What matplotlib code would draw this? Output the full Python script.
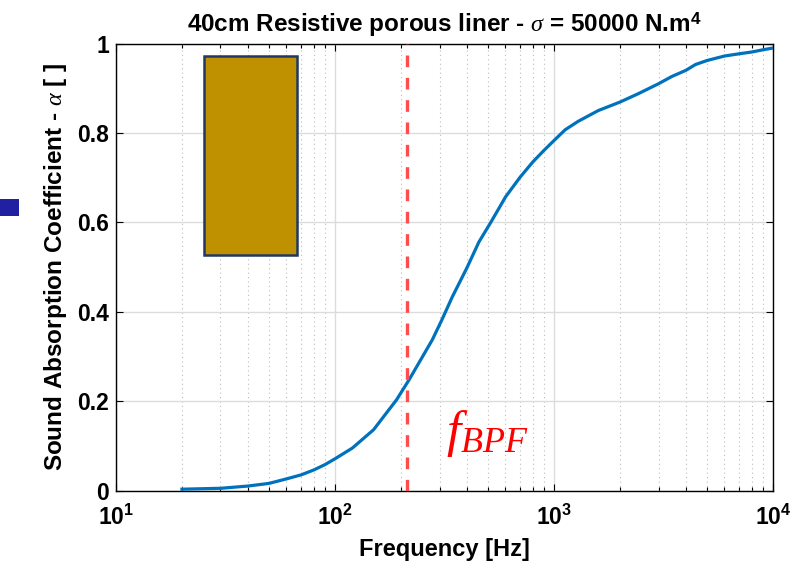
import numpy as np
import matplotlib
matplotlib.use('Agg')
import matplotlib.pyplot as plt
from matplotlib.patches import Rectangle
from matplotlib.ticker import FixedLocator, LogLocator, NullFormatter

plt.rcParams['font.family'] = ['Liberation Sans', 'DejaVu Sans']
plt.rcParams['mathtext.fontset'] = 'custom'
plt.rcParams['mathtext.rm'] = 'Liberation Sans:bold'
plt.rcParams['mathtext.bf'] = 'Liberation Sans:bold'
plt.rcParams['mathtext.it'] = 'Liberation Serif:italic'

# absorption curve
freq = [20, 30, 40, 50, 60, 70, 80, 90, 100, 120, 150, 191, 218, 278, 307,
        343, 400, 454, 513, 601, 700, 800, 900, 1000, 1124, 1290, 1592, 2000,
        2431, 3000, 3442, 4000, 4425, 5000, 6000, 7000, 8000, 9000, 10000]
alpha = [0.003, 0.005, 0.010, 0.016, 0.026, 0.035, 0.046, 0.058, 0.071,
         0.095, 0.136, 0.203, 0.248, 0.337, 0.381, 0.433, 0.498, 0.556,
         0.599, 0.657, 0.701, 0.735, 0.761, 0.783, 0.807, 0.826, 0.850,
         0.869, 0.888, 0.910, 0.926, 0.940, 0.953, 0.962, 0.972, 0.977,
         0.981, 0.986, 0.990]
f_bpf = 214
yticks = [0, 0.2, 0.4, 0.6, 0.8, 1]
ytick_labels = ['0', '0.2', '0.4', '0.6', '0.8', '1']
xticks = [10, 100, 1000, 10000]
xtick_labels = [r'$\mathbf{10^{1}}$', r'$\mathbf{10^{2}}$',
                r'$\mathbf{10^{3}}$', r'$\mathbf{10^{4}}$']

fig = plt.figure(figsize=(7.94, 5.68), dpi=100)
ax = fig.add_axes([0.1461, 0.1364, 0.8275, 0.787])

ax.plot(freq, alpha, color='#0072BD', lw=2.3, zorder=3)
ax.axvline(f_bpf, color='#FF4D4D', lw=2.4, ls=(0, (3.5, 3.2)), zorder=4)

# material block sketch
ax.add_patch(Rectangle((25.2, 0.528), 67.4 - 25.2, 0.9725 - 0.528,
                       facecolor='#BF9000', edgecolor='#1F3864', lw=1.8, zorder=5))

ax.text(322, 0.128, r'$f_{BPF}$', color='red', fontsize=37, ha='left', va='center')

ax.set_xscale('log')
ax.set_xlim(10, 10000)
ax.set_ylim(0, 1)
ax.xaxis.set_major_locator(FixedLocator(xticks))
ax.set_xticklabels(xtick_labels)
ax.xaxis.set_minor_locator(LogLocator(base=10, subs=np.arange(2, 10)))
ax.xaxis.set_minor_formatter(NullFormatter())
ax.set_yticks(yticks)
ax.set_yticklabels(ytick_labels)

ax.grid(True, which='major', color='#DCDCDC', lw=1.0, ls='-')
ax.grid(True, which='minor', axis='x', color='#BBBBBB', lw=0.8, ls=(0, (1, 3)))
ax.set_axisbelow(True)

ax.tick_params(which='both', direction='in', top=True, right=True, width=0.8)
ax.tick_params(which='major', length=5, labelsize=16.5)
ax.tick_params(which='minor', length=3)
ax.tick_params(axis='x', which='major', pad=10)
ax.tick_params(axis='y', which='major', pad=5)
for lab in ax.get_yticklabels():
    lab.set_fontweight('bold')
for sp in ax.spines.values():
    sp.set_linewidth(1.0)

ax.set_title(r'40cm Resistive porous liner - $\sigma$ = 50000 N.m$^{\mathbf{4}}$',
             fontsize=17.5, fontweight='bold', pad=8)
ax.set_xlabel('Frequency [Hz]', fontsize=17, fontweight='bold', labelpad=6)
ax.set_ylabel(r'Sound Absorption Coefficient - $\alpha$ [ ]', fontsize=17.5,
              fontweight='bold', labelpad=6)

# small blue marker at the left edge of the slide
fig.patches.append(Rectangle((0, 0.6197), 0.0239, 0.0299, transform=fig.transFigure,
                             facecolor='#2020A0', edgecolor='none'))

fig.savefig('out.png', dpi=100)
